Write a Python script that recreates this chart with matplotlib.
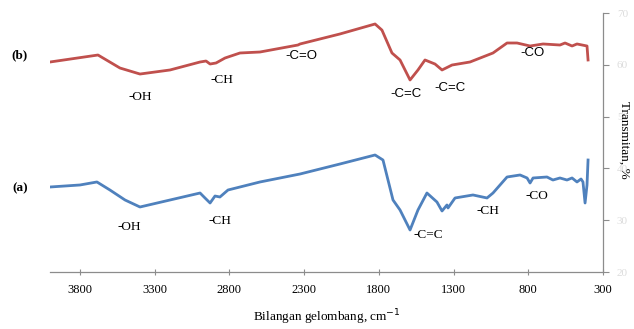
import matplotlib
matplotlib.use("Agg")
import matplotlib.pyplot as plt

# Series (b) - red
wn_b = [4000, 3679, 3532, 3398, 3197, 2996, 2956, 2929, 2889, 2829, 2729, 2595, 2341, 2327,
        2060, 1825, 1779, 1712, 1658, 1591, 1538, 1491, 1424, 1377, 1310, 1190, 1036, 942,
        875, 788, 701, 588, 554, 507, 474, 407, 400]
tr_b = [60.54, 61.89, 59.38, 58.22, 59.0, 60.54, 60.73, 60.15, 60.35, 61.31, 62.28, 62.47, 63.82, 64.02,
        65.95, 67.88, 66.7, 62.28, 60.93, 57.07, 59.0, 60.93, 60.15, 59.0, 59.96, 60.54, 62.28, 64.21,
        64.21, 63.63, 64.02, 63.82, 64.21, 63.63, 64.02, 63.63, 60.93]

# Series (a) - blue
wn_a = [4000, 3799, 3686, 3599, 3498, 3398, 3197, 2996, 2963, 2929, 2896, 2863, 2809, 2595, 2327,
        2060, 1825, 1772, 1705, 1658, 1591, 1538, 1478, 1411, 1377, 1344, 1337, 1290, 1170, 1076,
        1036, 942, 855, 808, 788, 768, 675, 635, 588, 541, 507, 474, 447, 434, 420, 407, 400]
tr_a = [36.41, 36.80, 37.38, 35.83, 33.90, 32.55, 33.90, 35.25, 34.29, 33.32, 34.67, 34.48, 35.83, 37.38, 38.92,
        40.85, 42.59, 41.62, 33.90, 31.97, 28.11, 31.97, 35.25, 33.51, 31.78, 32.94, 32.36, 34.29, 34.87, 34.29,
        35.25, 38.34, 38.73, 38.15, 37.18, 38.15, 38.34, 37.76, 38.15, 37.76, 38.15, 37.38, 37.96, 37.38, 33.32, 36.8, 41.62]

x_ticks = [3800, 3300, 2800, 2300, 1800, 1300, 800, 300]
y_ticks = [20, 30, 40, 50, 60, 70]

labels_b = ["-OH", "-CH", "-C=O", "-C=C", "-C=C", "-CO"]
labels_b_pos = [(3398, 53.78), (2849, 57.07), (2320, 61.7), (1618, 54.4), (1324, 55.5), (775, 62.3)]
labels_b_font = ["Liberation Serif", "Liberation Serif", "Liberation Sans", "Liberation Sans", "Liberation Sans", "Liberation Sans"]

labels_a = ["-OH", "-CH", "-C=C", "-CH", "-CO"]
labels_a_pos = [(3470, 28.7), (2860, 29.8), (1470, 27.1), (1070, 31.78), (740, 34.67)]

fig = plt.figure(figsize=(6.34, 3.29), dpi=100)
ax = fig.add_axes([50/634, 1-272/329, (603-50)/634, (272-13)/329])

ax.plot(wn_b, tr_b, color="#C0504D", lw=2.0, solid_joinstyle="round")
ax.plot(wn_a, tr_a, color="#4F81BD", lw=2.0, solid_joinstyle="round")

ax.set_xlim(4000, 300)
ax.set_ylim(20, 70)
ax.set_xticks(x_ticks)
ax.set_xticklabels([str(v) for v in x_ticks], fontfamily="Liberation Serif", fontsize=9)
ax.set_yticks(y_ticks)
ax.yaxis.tick_right()
ax.set_yticklabels([str(v) for v in y_ticks], fontfamily="Liberation Serif", fontsize=8, color="#dcdcdc")

for s in ["left", "top"]:
    ax.spines[s].set_visible(False)
for s in ["right", "bottom"]:
    ax.spines[s].set_color("#8c8c8c")
    ax.spines[s].set_linewidth(0.9)
ax.tick_params(axis="x", direction="inout", length=5, color="#8c8c8c", pad=6)
ax.tick_params(axis="y", direction="out", length=4, color="#8c8c8c", pad=6)

ax.set_xlabel("Bilangan gelombang, cm$^{-1}$", fontfamily="Liberation Serif", fontsize=9.5, labelpad=8)
fig.text(624/634, 1-140/329, "Transmitan, %", rotation=270, ha="center", va="center",
         fontfamily="Liberation Serif", fontsize=9.5)

for t, (x, y), f in zip(labels_b, labels_b_pos, labels_b_font):
    ax.text(x, y, t, ha="center", va="center", fontsize=9.5, fontfamily=f)
for t, (x, y) in zip(labels_a, labels_a_pos):
    ax.text(x, y, t, ha="center", va="center", fontsize=9.5, fontfamily="Liberation Serif")

fig.text(20/634, 1-55/329, "(b)", ha="center", va="center", fontsize=9.5, fontweight="bold", fontfamily="Liberation Serif")
fig.text(20/634, 1-188/329, "(a)", ha="center", va="center", fontsize=9.5, fontweight="bold", fontfamily="Liberation Serif")

fig.savefig("out.png", dpi=100)
